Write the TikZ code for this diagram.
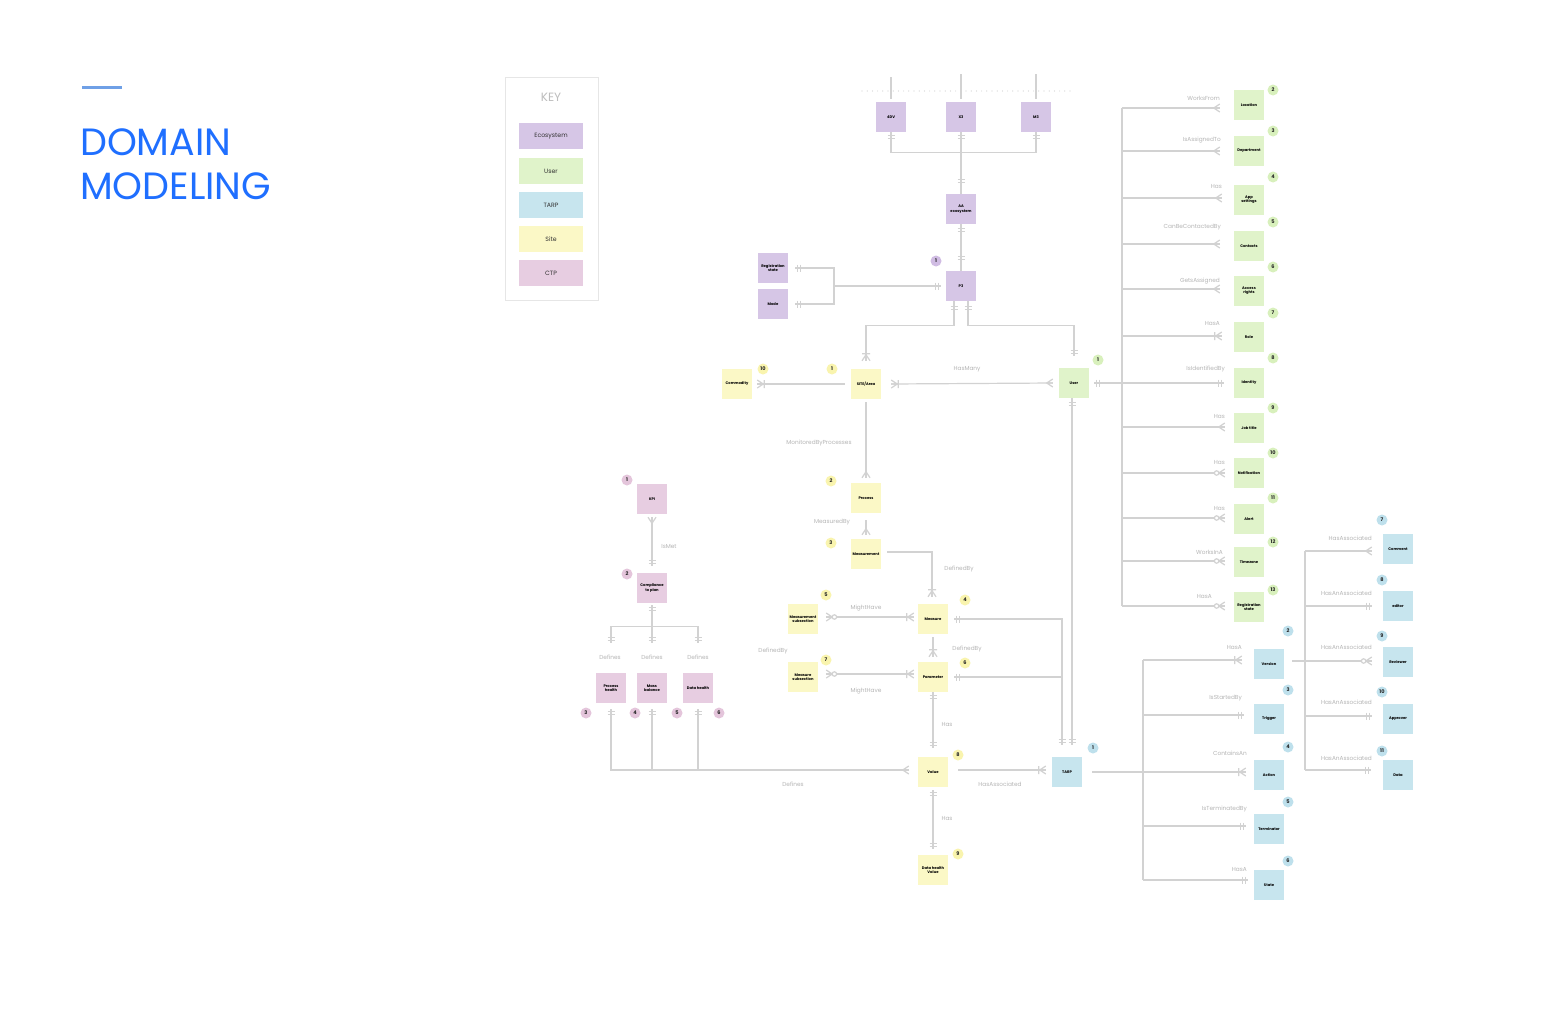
\documentclass[tikz,border=0pt]{standalone}
\usepackage{fontspec}
\setmainfont{Poppins}
\usetikzlibrary{calc}
\definecolor{ecoc}{HTML}{D6C6E6}
\definecolor{usrc}{HTML}{E0F3CA}
\definecolor{tarpc}{HTML}{C7E5EE}
\definecolor{sitec}{HTML}{FBF8C6}
\definecolor{ctpc}{HTML}{E7CDE1}
\definecolor{ecob}{HTML}{D0BCE3}
\definecolor{usrb}{HTML}{D8F0BC}
\definecolor{tarpb}{HTML}{BEE0EC}
\definecolor{siteb}{HTML}{F9F4AE}
\definecolor{ctpb}{HTML}{E4C5DB}
\definecolor{linec}{HTML}{D2D2D2}
\definecolor{lblc}{HTML}{B5B5B5}
\definecolor{titlec}{HTML}{1F6FFF}
\definecolor{titleline}{HTML}{6FA0E6}
\definecolor{keyline}{HTML}{E6E6E6}
\definecolor{keytext}{HTML}{BDBDBD}
\tikzset{
  conn/.style={draw=linec, line width=1.2pt},
  box/.style={minimum width=30pt, minimum height=30pt, inner sep=0.5pt, align=center,
    font=\fontsize{3.7}{4.4}\selectfont\bfseries, text=black},
  ecobox/.style={box, fill=ecoc},
  usrbox/.style={box, fill=usrc},
  tarpbox/.style={box, fill=tarpc},
  sitebox/.style={box, fill=sitec},
  ctpbox/.style={box, fill=ctpc},
  keybox/.style={minimum width=64pt, minimum height=26pt, inner sep=0pt,
    font=\fontsize{6.2}{7}\selectfont, text=black!80},
  badge/.style={circle, minimum size=11pt, inner sep=0pt,
    font=\fontsize{5}{5}\selectfont\bfseries, text=black!85},
  lbl/.style={inner sep=0pt, text=lblc, font=\fontsize{5.8}{6.5}\selectfont},
  toR/.style={x={(1pt,0pt)}, y={(0pt,-1pt)}},
  toL/.style={x={(-1pt,0pt)}, y={(0pt,-1pt)}},
  toD/.style={x={(0pt,-1pt)}, y={(1pt,0pt)}},
  toU/.style={x={(0pt,1pt)}, y={(1pt,0pt)}},
  ercrow/.pic={\draw[conn] (0,-4)--(-6,0)--(0,4) (0,0)--(-6,0);},
  eronemany/.pic={\draw[conn] (0,-4)--(-6,0)--(0,4) (0,0)--(-7,0) (-7,-4)--(-7,4);},
  erzeromany/.pic={\draw[conn] (0,-4)--(-6,0)--(0,4) (0,0)--(-6,0);
    \draw[conn, fill=white] (-8.2,0) circle (2.2);},
  erone/.pic={\draw[conn] (-2,-3.5)--(-2,3.5) (-5,-3.5)--(-5,3.5);},
}
% marker: direction, position, type
\newcommand\mk[3]{%
  \coordinate (mkp) at #2;
  \pic[#1] at (mkp) {#3};}
\newcommand\erbranch[5]{%
  \coordinate (bp) at ($(#2.west)+(-#4,#5)$);
  \draw[conn] (#1 |- bp) -- (bp);
  \pic[toR] at (bp) {#3};}
\begin{document}
\begin{tikzpicture}[x=1pt,y=-1pt]
\useasboundingbox (0,0) rectangle (1550,1020);
\fill[white] (0,0) rectangle (1550,1020);

% ---------- title ----------
\coordinate (tl1) at (82,87.5);
\coordinate (tl2) at (122,87.5);
\draw[titleline, line width=3pt] (tl1) -- (tl2);
\node[anchor=base west, inner sep=0, text=titlec, font=\fontsize{38}{44}\selectfont] (title1) at (80,155) {DOMAIN};
\node[anchor=base west, inner sep=0, text=titlec, font=\fontsize{38}{44}\selectfont] (title2) at (80,199) {MODELING};

% ---------- key ----------
\node[draw=keyline, line width=1.3pt, minimum width=93pt, minimum height=223pt, inner sep=0] (keyframe) at (552,189) {};
\node[inner sep=0, text=keytext, font=\fontsize{12}{14}\selectfont] (keyt) at (551,97) {KEY};
\node[keybox, fill=ecoc] (k1) at (551,136) {Ecosystem};
\node[keybox, fill=usrc] (k2) at (551,171) {User};
\node[keybox, fill=tarpc] (k3) at (551,205) {TARP};
\node[keybox, fill=sitec] (k4) at (551,239) {Site};
\node[keybox, fill=ctpc] (k5) at (551,273) {CTP};

% ---------- ecosystem ----------
\node[ecobox] (n4dv) at (891,117) {4DV};
\node[ecobox] (nx3) at (961,117) {X3};
\node[ecobox] (nm3) at (1036,117) {M3};
\node[ecobox] (naa) at (961,209) {AA\\ecosystem};
\node[ecobox] (np3) at (961,286) {P3};
\node[ecobox] (nreg) at (773,268) {Registration\\state};
\node[ecobox] (nmode) at (773,304) {Mode};
\node[badge, fill=ecob] (bp3) at (936,261) {1};

\coordinate (dl) at (862,91);
\coordinate (dr) at (1072,91);
\draw[conn, line cap=round, dash pattern=on 0pt off 5.2pt] (dl) -- (dr);
\draw[conn] ($(n4dv.north)+(0,-3)$) -- ++(0,-22);
\draw[conn] ($(nx3.north)+(0,-3)$) -- ++(0,-25);
\draw[conn] ($(nm3.north)+(0,-3)$) -- ++(0,-25);
\draw[conn] (n4dv.south) -- ++(0,20) -| (nm3.south);
\draw[conn] (nx3.south) -- (naa.north);
\mk{toU}{($(n4dv.south)+(0,1)$)}{erone}
\mk{toU}{($(nx3.south)+(0,1)$)}{erone}
\mk{toU}{($(nm3.south)+(0,1)$)}{erone}
\mk{toD}{($(naa.north)+(0,-9)$)}{erone}
\draw[conn] (naa.south) -- (np3.north);
\mk{toU}{($(naa.south)+(0,2)$)}{erone}
\mk{toD}{($(np3.north)+(0,-9)$)}{erone}

\coordinate (jreg) at (834,286);
\draw[conn] ($(nreg.east)+(7,0)$) -| (jreg) |- ($(nmode.east)+(7,0)$);
\draw[conn] (jreg) -- ($(np3.west)+(-5,0)$);
\mk{toL}{($(nreg.east)+(7,0)$)}{erone}
\mk{toL}{($(nmode.east)+(7,0)$)}{erone}
\mk{toR}{($(np3.west)+(-5,0)$)}{erone}

% ---------- site ----------
\node[sitebox] (ncom) at (737,384) {Commodity};
\node[sitebox] (nsite) at (866,384) {SITE/Area};
\node[sitebox] (nproc) at (866,498) {Process};
\node[sitebox] (nmsm) at (866,554) {Measurement};
\node[sitebox] (nmeas) at (933,619) {Measure};
\node[sitebox] (nmsub) at (803,619) {Measurement\\subsection};
\node[sitebox] (npar) at (933,677) {Parameter};
\node[sitebox] (nmssub) at (803,677) {Measure\\subsection};
\node[sitebox] (nval) at (933,772) {Value};
\node[sitebox] (ndhv) at (933,870) {Data health\\Value};

\node[badge, fill=siteb] (bs10) at (763,369) {10};
\node[badge, fill=siteb] (bs1) at (832,369) {1};
\node[badge, fill=siteb] (bs2) at (831,481) {2};
\node[badge, fill=siteb] (bs3) at (831,543) {3};
\node[badge, fill=siteb] (bs5) at (826,595) {5};
\node[badge, fill=siteb] (bs4) at (965,600) {4};
\node[badge, fill=siteb] (bs7) at (826,660) {7};
\node[badge, fill=siteb] (bs6) at (965,663) {6};
\node[badge, fill=siteb] (bs8) at (958,755) {8};
\node[badge, fill=siteb] (bs9) at (958,854) {9};

% ---------- user ----------
\node[usrbox] (nuser) at (1074,383) {User};
\node[badge, fill=usrb] (bu1) at (1098,360) {1};
\node[usrbox] (uloc) at (1249,105) {Location};
\node[usrbox] (udep) at (1249,151) {Department};
\node[usrbox] (uapp) at (1249,200) {App\\settings};
\node[usrbox] (ucon) at (1249,246) {Contacts};
\node[usrbox] (uacc) at (1249,291) {Access\\rights};
\node[usrbox] (urole) at (1249,337) {Role};
\node[usrbox] (uident) at (1249,383) {Identity};
\node[usrbox] (ujob) at (1249,428) {Job title};
\node[usrbox] (unotif) at (1249,473) {Notification};
\node[usrbox] (ualert) at (1249,519) {Alert};
\node[usrbox] (utz) at (1249,562) {Timezone};
\node[usrbox] (ureg) at (1249,607) {Registration\\state};
\node[badge, fill=usrb] (bu2) at (1273,90) {2};
\node[badge, fill=usrb] (bu3) at (1273,131) {3};
\node[badge, fill=usrb] (bu4) at (1273,177) {4};
\node[badge, fill=usrb] (bu5) at (1273,222) {5};
\node[badge, fill=usrb] (bu6) at (1273,267) {6};
\node[badge, fill=usrb] (bu7) at (1273,313) {7};
\node[badge, fill=usrb] (bu8) at (1273,358) {8};
\node[badge, fill=usrb] (bu9) at (1273,408) {9};
\node[badge, fill=usrb] (bu10) at (1273,453) {10};
\node[badge, fill=usrb] (bu11) at (1273,498) {11};
\node[badge, fill=usrb] (bu12) at (1273,542) {12};
\node[badge, fill=usrb] (bu13) at (1273,590) {13};

% ---------- tarp ----------
\node[tarpbox] (ntarp) at (1067,772) {TARP};
\node[badge, fill=tarpb] (bt1) at (1093,748) {1};
\node[tarpbox] (tver) at (1269,664) {Version};
\node[tarpbox] (ttrig) at (1269,719) {Trigger};
\node[tarpbox] (tact) at (1269,775) {Action};
\node[tarpbox] (tterm) at (1269,829) {Terminator};
\node[tarpbox] (tstate) at (1269,885) {State};
\node[tarpbox] (rcom) at (1398,549) {Comment};
\node[tarpbox] (redit) at (1398,606) {editor};
\node[tarpbox] (rrev) at (1398,662) {Reviewer};
\node[tarpbox] (rappr) at (1398,719) {Approver};
\node[tarpbox] (rdata) at (1398,775) {Data};
\node[badge, fill=tarpb] (bt2) at (1288,631) {2};
\node[badge, fill=tarpb] (bt3) at (1288,690) {3};
\node[badge, fill=tarpb] (bt4) at (1288,747) {4};
\node[badge, fill=tarpb] (bt5) at (1288,802) {5};
\node[badge, fill=tarpb] (bt6) at (1288,861) {6};
\node[badge, fill=tarpb] (bt7) at (1382,520) {7};
\node[badge, fill=tarpb] (bt8) at (1382,580) {8};
\node[badge, fill=tarpb] (bt9) at (1382,636) {9};
\node[badge, fill=tarpb] (bt10) at (1382,692) {10};
\node[badge, fill=tarpb] (bt11) at (1382,751) {11};

% ---------- ctp ----------
\node[ctpbox] (ckpi) at (652,499) {KPI};
\node[ctpbox] (ccomp) at (652,588) {Compliance\\to plan};
\node[ctpbox] (cph) at (611,688) {Process\\health};
\node[ctpbox] (cmb) at (652,688) {Mass\\balance};
\node[ctpbox] (cdh) at (698,688) {Data health};
\node[badge, fill=ctpb] (bc1) at (627,480) {1};
\node[badge, fill=ctpb] (bc2) at (627,574) {2};
\node[badge, fill=ctpb] (bc3) at (586,713) {3};
\node[badge, fill=ctpb] (bc4) at (635,713) {4};
\node[badge, fill=ctpb] (bc5) at (677,713) {5};
\node[badge, fill=ctpb] (bc6) at (719,713) {6};

% ---------- P3 to site / user ----------
\draw[conn] ($(np3.south)+(-7,0)$) -- ++(0,24) -| ($(nsite.north)+(0,-8)$);
\mk{toU}{($(np3.south)+(-7,3)$)}{erone}
\mk{toD}{($(nsite.north)+(0,-8)$)}{eronemany}
\draw[conn] ($(np3.south)+(7,0)$) -- ++(0,24) -| ($(nuser.north)+(0,-12)$);
\mk{toU}{($(np3.south)+(7,3)$)}{erone}
\mk{toD}{($(nuser.north)+(0,-12)$)}{erone}

% ---------- site connectors ----------
\draw[conn] ($(ncom.east)+(5,0)$) -- ($(nsite.west)+(-6,0)$);
\mk{toL}{($(ncom.east)+(5,0)$)}{eronemany}
\draw[conn] ($(nsite.east)+(10,0)$) -- ($(nuser.west)+(-6,0)$);
\mk{toL}{($(nsite.east)+(10,0)$)}{eronemany}
\mk{toR}{($(nuser.west)+(-6,0)$)}{ercrow}
\node[lbl] (lhm) at (967,369) {HasMany};

\draw[conn] ($(nsite.south)+(0,3)$) -- ($(nproc.north)+(0,-5)$);
\mk{toD}{($(nproc.north)+(0,-5)$)}{ercrow}
\node[lbl] (lmbp) at (819,443) {MonitoredByProcesses};
\draw[conn] ($(nproc.south)+(0,7)$) -- ($(nmsm.north)+(0,-4)$);
\mk{toD}{($(nmsm.north)+(0,-4)$)}{ercrow}
\node[lbl] (lmby) at (832,522) {MeasuredBy};

\draw[conn] ($(nmsm.east)+(6,-2)$) -| ($(nmeas.north)+(-1,-7)$);
\mk{toD}{($(nmeas.north)+(-1,-7)$)}{eronemany}
\node[lbl] (ldb1) at (959,569) {DefinedBy};

\draw[conn] ($(nmsub.east)+(8,-2)$) -- ($(nmeas.west)+(-4,-2)$);
\mk{toL}{($(nmsub.east)+(8,-2)$)}{erzeromany}
\mk{toR}{($(nmeas.west)+(-4,-2)$)}{eronemany}
\node[lbl] (lmh1) at (866,608) {MightHave};

\draw[conn] ($(nmeas.south)+(0,3)$) -- ($(npar.north)+(0,-5)$);
\mk{toD}{($(npar.north)+(0,-5)$)}{eronemany}
\node[lbl] (ldb2) at (967,649) {DefinedBy};
\node[lbl] (ldb3) at (773,651) {DefinedBy};

\draw[conn] ($(nmssub.east)+(8,-3)$) -- ($(npar.west)+(-4,-3)$);
\mk{toL}{($(nmssub.east)+(8,-3)$)}{erzeromany}
\mk{toR}{($(npar.west)+(-4,-3)$)}{eronemany}
\node[lbl] (lmh2) at (866,691) {MightHave};

\draw[conn] (npar.south) -- ($(nval.north)+(0,-9)$);
\mk{toU}{($(npar.south)+(0,1)$)}{erone}
\mk{toD}{($(nval.north)+(0,-9)$)}{erone}
\node[lbl] (lhas1) at (947,724) {Has};

\draw[conn] ($(nval.south)+(0,3)$) -- ($(ndhv.north)+(0,-6)$);
\mk{toU}{($(nval.south)+(0,3)$)}{erone}
\mk{toD}{($(ndhv.north)+(0,-6)$)}{erone}
\node[lbl] (lhas2) at (947,818) {Has};

\draw[conn] ($(nval.east)+(10,-2)$) -- ($(ntarp.west)+(-6,-2)$);
\mk{toR}{($(ntarp.west)+(-6,-2)$)}{eronemany}
\node[lbl] (lha) at (1000,784) {HasAssociated};

\coordinate (vl) at ($(nval.west)+(-9,-2)$);
\coordinate (phb) at ($(cph.south)+(0,6)$);
\coordinate (mbb) at ($(cmb.south)+(0,6)$);
\coordinate (dhb) at ($(cdh.south)+(0,6)$);
\draw[conn] (vl) -| (phb);
\draw[conn] (mbb) -- (mbb |- vl);
\draw[conn] (dhb) -- (dhb |- vl);
\pic[toR] at (vl) {ercrow};
\pic[toU] at (phb) {erone};
\pic[toU] at (mbb) {erone};
\pic[toU] at (dhb) {erone};
\node[lbl] (ldef) at (793,784) {Defines};

% ---------- user to TARP, measure/parameter to TARP ----------
\coordinate (tarpU) at ($(ntarp.north)+(5,-12)$);
\draw[conn] ($(nuser.south)+(-2,0)$) -- (tarpU);
\mk{toU}{($(nuser.south)+(-2,2)$)}{erone}
\pic[toD] at (tarpU) {erone};
\coordinate (tarpM) at ($(ntarp.north)+(-5,-12)$);
\draw[conn] ($(nmeas.east)+(6,0)$) -| (tarpM);
\draw[conn] ($(npar.east)+(6,0)$) -- (npar -| tarpM);
\mk{toL}{($(nmeas.east)+(6,0)$)}{erone}
\mk{toL}{($(npar.east)+(6,0)$)}{erone}
\pic[toD] at (tarpM) {erone};

% ---------- user branches ----------
\coordinate (tu) at (1122,0);
\draw[conn] ($(tu |- uloc)+(0,3)$) -- ($(tu |- ureg)+(0,-1)$);
\erbranch{tu}{uloc}{ercrow}{14}{3}
\erbranch{tu}{udep}{ercrow}{14}{0}
\erbranch{tu}{uapp}{ercrow}{12}{-2}
\erbranch{tu}{ucon}{ercrow}{14}{-2}
\erbranch{tu}{uacc}{ercrow}{14}{-2}
\erbranch{tu}{urole}{eronemany}{12}{-1}
\erbranch{tu}{ujob}{ercrow}{9}{-1}
\erbranch{tu}{unotif}{erzeromany}{9}{0}
\erbranch{tu}{ualert}{erzeromany}{9}{-1}
\erbranch{tu}{utz}{erzeromany}{9}{-1}
\erbranch{tu}{ureg}{erzeromany}{9}{-1}
\draw[conn] ($(nuser.east)+(5,0)$) -- ($(uident.west)+(-10,0)$);
\mk{toL}{($(nuser.east)+(5,0)$)}{erone}
\mk{toR}{($(uident.west)+(-10,0)$)}{erone}

\node[lbl, anchor=east] (lu1) at (1220,98) {WorksFrom};
\node[lbl, anchor=east] (lu2) at (1221,140) {IsAssignedTo};
\node[lbl, anchor=east] (lu3) at (1222,187) {Has};
\node[lbl, anchor=east] (lu4) at (1221,227) {CanBeContactedBy};
\node[lbl, anchor=east] (lu5) at (1220,281) {GetsAssigned};
\node[lbl, anchor=east] (lu6) at (1220,323) {HasA};
\node[lbl, anchor=east] (lu7) at (1225,369) {IsIdentifiedBy};
\node[lbl, anchor=east] (lu8) at (1225,416) {Has};
\node[lbl, anchor=east] (lu9) at (1225,462) {Has};
\node[lbl, anchor=east] (lu10) at (1225,508) {Has};
\node[lbl, anchor=east] (lu11) at (1223,552) {WorksInA};
\node[lbl, anchor=east] (lu12) at (1212,596) {HasA};

% ---------- TARP branches ----------
\coordinate (tt) at (1143,0);
\draw[conn] ($(tt |- tver)+(0,-4)$) -- ($(tt |- tstate)+(0,-5)$);
\erbranch{tt}{tver}{eronemany}{12}{-4}
\erbranch{tt}{ttrig}{erone}{10}{-4}
\erbranch{tt}{tterm}{erone}{8}{-3}
\erbranch{tt}{tstate}{erone}{6}{-5}
\coordinate (bpa) at ($(tact.west)+(-8,-3)$);
\draw[conn] ($(ntarp.east)+(10,0)$) -- (bpa);
\pic[toR] at (bpa) {eronemany};

\node[lbl, anchor=east] (lt1) at (1242,647) {HasA};
\node[lbl, anchor=east] (lt2) at (1242,698) {IsStartedBy};
\node[lbl, anchor=east] (lt3) at (1247,753) {ContainsAn};
\node[lbl, anchor=east] (lt4) at (1247,809) {IsTerminatedBy};
\node[lbl, anchor=east] (lt5) at (1247,869) {HasA};

\coordinate (tr) at (1305,0);
\draw[conn] ($(tr |- rcom)+(0,2)$) -- ($(tr |- rdata)+(0,-5)$);
\erbranch{tr}{rcom}{ercrow}{11}{2}
\erbranch{tr}{redit}{erone}{11}{0}
\erbranch{tr}{rrev}{erzeromany}{11}{-1}
\erbranch{tr}{rappr}{erone}{11}{-3}
\erbranch{tr}{rdata}{erone}{12}{-5}
\coordinate (ve) at ($(tver.east)+(8,-3)$);
\draw[conn] (ve) -- (ve -| tr);

\node[lbl, anchor=east] (lr1) at (1372,538) {HasAssociated};
\node[lbl, anchor=east] (lr2) at (1372,593) {HasAnAssociated};
\node[lbl, anchor=east] (lr3) at (1372,647) {HasAnAssociated};
\node[lbl, anchor=east] (lr4) at (1372,702) {HasAnAssociated};
\node[lbl, anchor=east] (lr5) at (1372,758) {HasAnAssociated};

% ---------- CTP connectors ----------
\draw[conn] ($(ckpi.south)+(0,3)$) -- ($(ccomp.north)+(0,-7)$);
\mk{toU}{($(ckpi.south)+(0,3)$)}{ercrow}
\mk{toD}{($(ccomp.north)+(0,-7)$)}{erone}
\node[lbl] (lismet) at (669,546) {IsMet};
\coordinate (cj) at ($(ccomp.south)+(0,23)$);
\coordinate (cjl) at (cj -| cph);
\coordinate (cjr) at (cj -| cdh);
\draw[conn] ($(ccomp.south)+(0,2)$) -- (cj);
\mk{toU}{($(ccomp.south)+(0,2)$)}{erone}
\draw[conn] (cjl) -- (cjr);
\draw[conn] (cjl) -- ++(0,17);
\draw[conn] (cj) -- ++(0,17);
\draw[conn] (cjr) -- ++(0,17);
\mk{toD}{($(cjl)+(0,16)$)}{erone}
\mk{toD}{($(cj)+(0,16)$)}{erone}
\mk{toD}{($(cjr)+(0,16)$)}{erone}
\node[lbl] (ldf1) at (610,657) {Defines};
\node[lbl] (ldf2) at (652,657) {Defines};
\node[lbl] (ldf3) at (698,657) {Defines};
\end{tikzpicture}
\end{document}
